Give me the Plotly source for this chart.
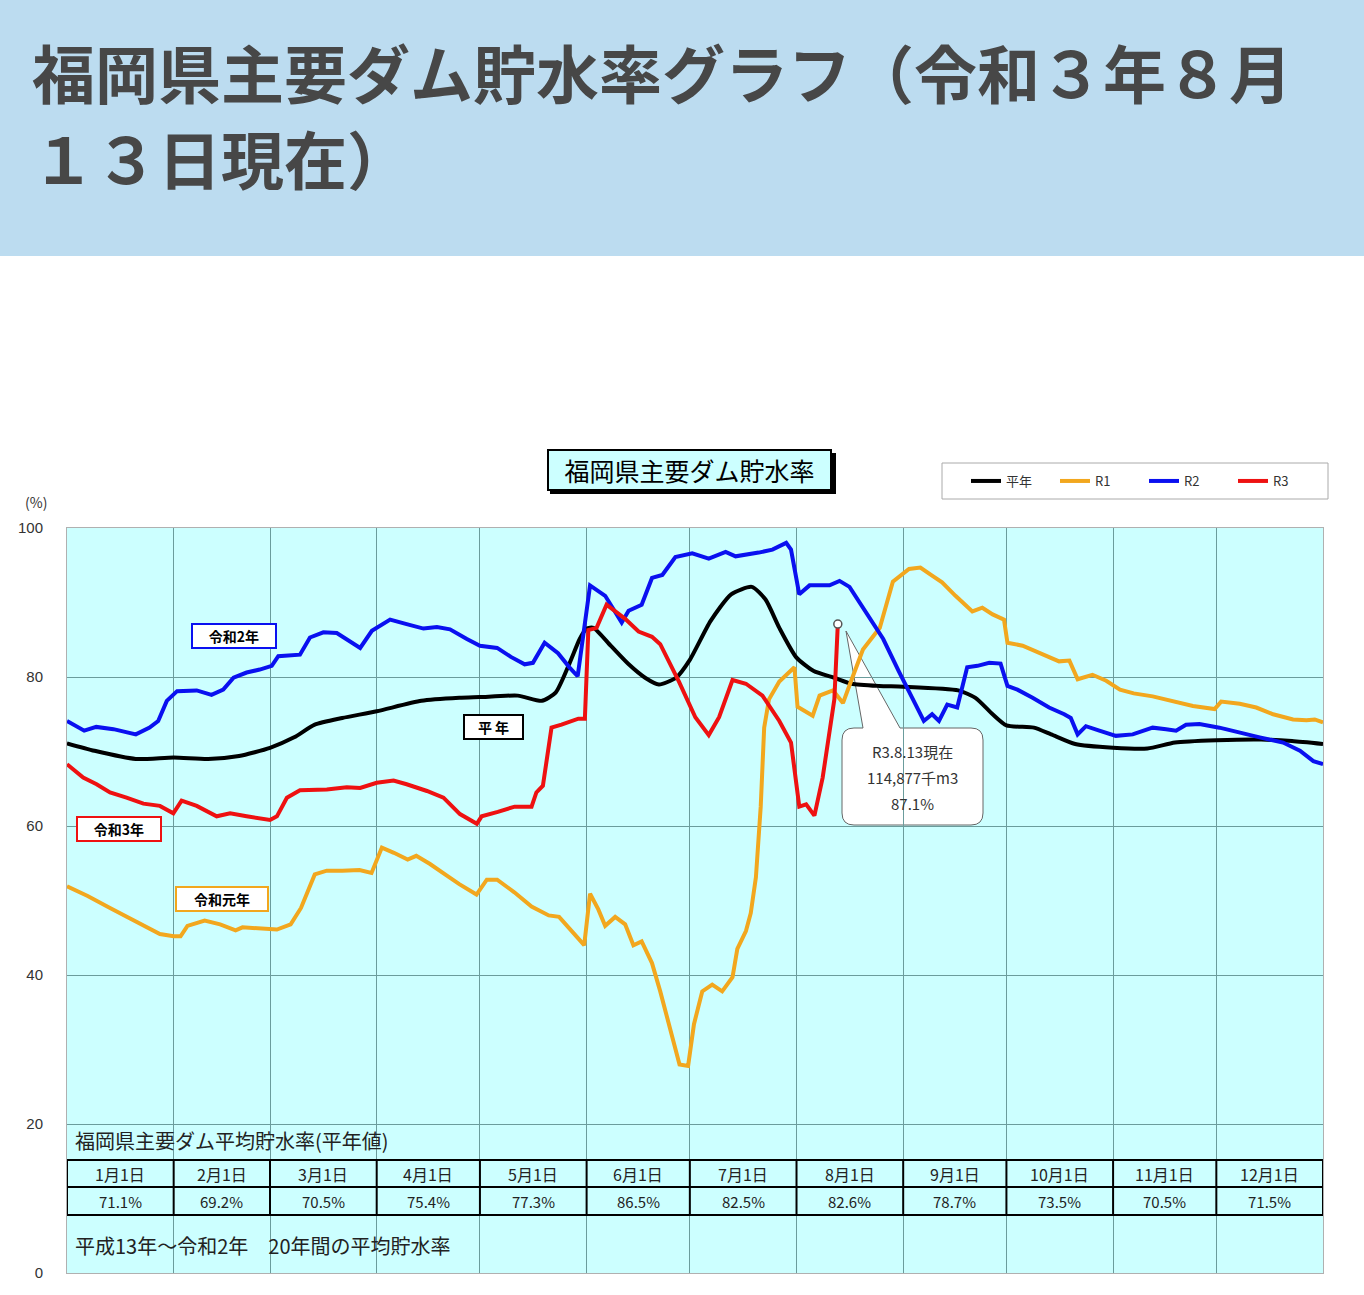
import plotly.graph_objects as go

# ------------------------
# data (day of year, storage %)
# ------------------------
month_start = [0, 31, 59, 90, 120, 151, 181, 212, 243, 273, 304, 334, 365]
table_dates = ["1月1日", "2月1日", "3月1日", "4月1日", "5月1日", "6月1日",
               "7月1日", "8月1日", "9月1日", "10月1日", "11月1日", "12月1日"]
table_values = ["71.1%", "69.2%", "70.5%", "75.4%", "77.3%", "86.5%",
                "82.5%", "82.6%", "78.7%", "73.5%", "70.5%", "71.5%"]

avg_day = [0, 8, 20, 31, 41, 50, 59, 66, 72, 80, 90, 103, 114, 120, 131, 138, 142, 146, 149,
           151, 153, 158, 163, 168, 172, 177, 181, 187, 193, 199, 203, 207, 212, 217, 223, 228,
           236, 243, 259, 264, 269, 273, 281, 286, 293, 304, 314, 322, 334, 347, 356, 365]
avg_pct = [71.1, 70.1, 69.0, 69.2, 69.0, 69.4, 70.5, 71.9, 73.6, 74.5, 75.4, 76.8, 77.2, 77.3,
           77.5, 76.8, 77.9, 81.8, 85.1, 86.5, 86.6, 84.2, 81.8, 79.9, 79.0, 79.9, 82.3, 87.5,
           91.1, 92.1, 90.4, 86.6, 82.6, 80.8, 79.9, 79.1, 78.8, 78.7, 78.2, 77.2, 75.0, 73.5,
           73.2, 72.3, 71.0, 70.5, 70.4, 71.2, 71.5, 71.6, 71.4, 71.0]

r1_day = [0, 6, 12.5, 20, 27, 31, 33, 35, 40, 44.5, 49, 51, 56, 61, 65, 68, 72, 75.5, 80, 85,
          88.5, 91.5, 95, 99, 101.5, 105.5, 110.5, 114, 119, 122, 125, 130, 135, 140, 143,
          146.5, 150.3, 152, 154.4, 156.4, 159.3, 162.2, 164.6, 167, 170, 172.4, 175, 178,
          180.5, 182.2, 184.6, 187.5, 190.4, 193.4, 194.8, 197.3, 198.7, 200.2, 201.6, 202.6,
          204, 207, 211.4, 212.3, 216.7, 218.7, 222.6, 225.5, 227.4, 231.3, 236.2, 240,
          244.7, 248, 251.4, 254.3, 258.2, 263.1, 266, 269, 272.3, 273.3, 277.7, 282.5, 288.3,
          291.3, 293.7, 298, 302, 306, 310, 315.5, 321.3, 327.2, 333.5, 335.4, 340.8, 345.6,
          350.5, 356.3, 360.2, 362.6, 365]
r1_pct = [51.9, 50.6, 49.0, 47.2, 45.5, 45.2, 45.2, 46.6, 47.3, 46.8, 46.0, 46.4, 46.3, 46.1,
          46.8, 49.0, 53.5, 54.0, 54.0, 54.1, 53.7, 57.1, 56.4, 55.5, 56.0, 54.9, 53.3, 52.2,
          50.8, 52.8, 52.8, 51.1, 49.2, 48.0, 47.8, 45.9, 44.0, 50.9, 48.8, 46.6, 47.8, 46.8,
          44.0, 44.5, 41.6, 37.8, 33.0, 28.0, 27.8, 33.4, 37.8, 38.7, 37.8, 39.7, 43.5, 45.9,
          48.3, 53.1, 62.6, 73.2, 77.0, 79.4, 81.3, 76.0, 74.8, 77.5, 78.2, 76.5, 78.9, 83.7,
          86.6, 92.8, 94.5, 94.7, 93.6, 92.7, 90.9, 88.8, 89.3, 88.4, 87.7, 84.6, 84.2, 83.3,
          82.1, 82.2, 79.7, 80.3, 79.5, 78.3, 77.8, 77.4, 76.8, 76.1, 75.7, 76.7, 76.4, 75.9,
          75.0, 74.3, 74.2, 74.3, 73.9]

r2_day = [0, 5, 8.5, 13.5, 20, 24, 26.5, 29, 32, 37.7, 42, 45.4, 48.4, 52.2, 56, 59.5, 61.4,
          67.7, 70.6, 74.5, 78.4, 82.3, 85.2, 88.6, 93.9, 98.7, 103.6, 107.5, 111.3, 116.2,
          120, 125, 129, 133, 135.4, 138.8, 142.7, 146, 148.4, 152, 156.4, 161.2, 163.2, 167,
          170, 173, 176.8, 181.7, 186.5, 191.4, 194.3, 201, 205, 209, 210.4, 212.8, 215.8,
          221.6, 224.5, 227.4, 232.3, 237.2, 241.7, 245.6, 249, 251.4, 253.4, 255.8, 258.7,
          261.6, 264.6, 268, 271.3, 273.3, 276.2, 280.6, 285.4, 289.8, 291.7, 293.7, 296.1,
          300, 304.8, 309.7, 315.5, 319.4, 322.3, 325.2, 329.1, 334.9, 340.8, 346.6, 353.4,
          358.3, 362.2, 365]
r2_pct = [74.1, 72.8, 73.3, 73.0, 72.3, 73.2, 74.1, 76.8, 78.1, 78.2, 77.6, 78.3, 79.9, 80.6,
          81.0, 81.5, 82.8, 83.0, 85.3, 86.0, 85.9, 84.8, 83.9, 86.2, 87.7, 87.1, 86.5, 86.7,
          86.4, 85.1, 84.2, 83.9, 82.7, 81.7, 81.9, 84.6, 83.2, 81.3, 80.1, 92.3, 90.9, 87.3,
          88.9, 89.7, 93.3, 93.7, 96.1, 96.6, 95.9, 96.8, 96.2, 96.7, 97.1, 98.0, 97.1, 91.1,
          92.3, 92.3, 92.9, 92.1, 88.5, 85.1, 80.8, 77.2, 74.1, 75.0, 74.1, 76.3, 75.9, 81.3,
          81.5, 81.9, 81.8, 78.8, 78.3, 77.2, 75.9, 75.0, 74.5, 72.3, 73.4, 72.8, 72.1, 72.3,
          73.2, 73.0, 72.8, 73.6, 73.7, 73.2, 72.5, 71.9, 71.2, 70.1, 68.7, 68.3]

r3_day = [0, 4.7, 8.6, 12.5, 17.3, 22.2, 27, 30.9, 33.3, 37.7, 43.5, 47.4, 52.2, 59, 61, 63.9,
          67.7, 75.5, 81.3, 85.2, 90, 94.9, 98.7, 104.6, 109.4, 114.2, 119.1, 120.5, 125.2,
          130.1, 135, 136.4, 138.3, 139.3, 140.8, 143.7, 148.6, 150.5, 151.5, 153.9, 156.8,
          162.2, 166.1, 170, 172.4, 177.8, 182.6, 186.5, 189.5, 193.4, 197.3, 202.1, 207,
          210.4, 212.8, 214.8, 217.2, 219.6, 221.6, 223, 224]
r3_pct = [68.3, 66.5, 65.6, 64.5, 63.8, 63.0, 62.7, 61.7, 63.4, 62.7, 61.3, 61.7, 61.3, 60.8,
          61.3, 63.8, 64.8, 64.9, 65.2, 65.1, 65.8, 66.1, 65.6, 64.7, 63.8, 61.6, 60.3, 61.3,
          61.9, 62.6, 62.6, 64.5, 65.4, 68.4, 73.2, 73.6, 74.4, 74.4, 86.3, 86.6, 89.7, 87.8,
          86.1, 85.4, 84.4, 79.4, 74.6, 72.2, 74.6, 79.6, 79.1, 77.5, 74.1, 71.2, 62.6, 62.9,
          61.4, 66.5, 72.2, 77.0, 87.1]

callout_lines = ["R3.8.13現在", "114,877千m3", "87.1%"]

# ------------------------
# helpers: page pixels -> paper coords
# ------------------------
W, H = 1364, 1295
L, R, T, B = 67, 1323, 528, 1273


def px(x):
    return (x - L) / (R - L)


def py(y):
    return (B - y) / (B - T)


JP = "Noto Sans CJK JP"

fig = go.Figure()
fig.add_trace(go.Scatter(x=avg_day, y=avg_pct, name="平年", mode="lines",
                         line=dict(color="black", width=4, shape="spline", smoothing=0.6)))
fig.add_trace(go.Scatter(x=r1_day, y=r1_pct, name="R1", mode="lines",
                         line=dict(color="#f2a71e", width=4)))
fig.add_trace(go.Scatter(x=r2_day, y=r2_pct, name="R2", mode="lines",
                         line=dict(color="#0a10f0", width=4)))
fig.add_trace(go.Scatter(x=r3_day, y=r3_pct, name="R3", mode="lines",
                         line=dict(color="#ee1111", width=4)))
fig.add_trace(go.Scatter(x=[r3_day[-1]], y=[r3_pct[-1]], mode="markers", showlegend=False,
                         marker=dict(color="white", size=8, line=dict(color="#555", width=1.5))))

shapes = []
annotations = []


def note(text, x, y, size, color="#222", xanchor="center", **kw):
    annotations.append(dict(xref="paper", yref="paper", x=px(x), y=py(y), xanchor=xanchor,
                            yanchor="middle", text=text, showarrow=False,
                            font=dict(family=JP, size=size, color=color), **kw))


# header band + title
shapes.append(dict(type="rect", xref="paper", yref="paper", x0=px(0), x1=px(W), y0=py(256), y1=py(0),
                   fillcolor="#bcdcf0", line=dict(width=0), layer="below"))
note("<b>福岡県主要ダム貯水率グラフ（令和３年８月</b>", 30, 71, 63, "#474747", xanchor="left")
note("<b>１３日現在）</b>", 30, 156, 63, "#474747", xanchor="left")

# chart title box with shadow
shapes.append(dict(type="rect", xref="paper", yref="paper", x0=px(550), x1=px(836), y0=py(494), y1=py(453),
                   fillcolor="black", line=dict(width=0)))
note("福岡県主要ダム貯水率", 689, 470, 25, "black", width=279, height=36, borderpad=1,
     bgcolor="#ccffff", bordercolor="black", borderwidth=2)

# legend frame
shapes.append(dict(type="rect", xref="paper", yref="paper", x0=px(942), x1=px(1328), y0=py(499), y1=py(463),
                   fillcolor="white", line=dict(color="#aaa", width=1)))

note("(%)", 36, 502, 14, "#333")

# series labels
for text, d, v, col, w in [("令和2年", 48.5, 85.5, "#0a10f0", 80), ("平 年", 123.8, 73.3, "black", 55),
                           ("令和3年", 15.1, 59.6, "#ee1111", 80), ("令和元年", 45.0, 50.2, "#f2a71e", 88)]:
    annotations.append(dict(x=d, y=v, text="<b>" + text + "</b>", showarrow=False, width=w, height=20,
                            bgcolor="white", bordercolor=col, borderwidth=2, borderpad=1,
                            font=dict(family=JP, size=14, color="black")))

# callout
bl, br, bt, bb, rr = 842, 983, 728, 825, 12
pts = [("M", bl + rr, bt), ("L", 863, bt), ("L", 846, 631), ("L", 900, bt), ("L", br - rr, bt),
       ("Q", br, bt, br, bt + rr), ("L", br, bb - rr), ("Q", br, bb, br - rr, bb), ("L", bl + rr, bb),
       ("Q", bl, bb, bl, bb - rr), ("L", bl, bt + rr), ("Q", bl, bt, bl + rr, bt)]
path = ""
for p in pts:
    coords = p[1:]
    path += p[0] + " " + " ".join(f"{px(coords[i]):.5f},{py(coords[i + 1]):.5f}"
                                  for i in range(0, len(coords), 2)) + " "
path += "Z"
shapes.append(dict(type="path", xref="paper", yref="paper", path=path, fillcolor="white",
                   line=dict(color="#666", width=1), layer="between"))
for text, y in zip(callout_lines, [751, 777, 803]):
    note(text, 912, y, 15, "#333")

# average table inside the plot
note("福岡県主要ダム平均貯水率(平年値)", 73, 1140, 20, xanchor="left")
note("平成13年～令和2年　20年間の平均貯水率", 73, 1245, 20, xanchor="left")
t_top, t_mid, t_bot = py(1160), py(1187), py(1215)
shapes.append(dict(type="rect", xref="x", yref="paper", x0=month_start[0], x1=month_start[-1],
                   y0=t_bot, y1=t_top, line=dict(color="black", width=2), layer="above"))
shapes.append(dict(type="line", xref="x", yref="paper", x0=month_start[0], x1=month_start[-1],
                   y0=t_mid, y1=t_mid, line=dict(color="black", width=2), layer="above"))
for d in month_start[1:-1]:
    shapes.append(dict(type="line", xref="x", yref="paper", x0=d, x1=d, y0=t_bot, y1=t_top,
                       line=dict(color="black", width=2), layer="above"))
for i in range(12):
    c = (month_start[i] + month_start[i + 1]) / 2
    annotations.append(dict(x=c, xref="x", yref="paper", y=(t_top + t_mid) / 2, yanchor="middle",
                            text=table_dates[i], showarrow=False,
                            font=dict(family=JP, size=16, color="#222")))
    annotations.append(dict(x=c, xref="x", yref="paper", y=(t_mid + t_bot) / 2, yanchor="middle",
                            text=table_values[i], showarrow=False,
                            font=dict(family=JP, size=15, color="#222")))

fig.update_layout(
    width=W, height=H,
    margin=dict(l=L, r=W - R, t=T, b=H - B, pad=0),
    paper_bgcolor="white",
    plot_bgcolor="#ccffff",
    font=dict(family=JP, color="#333"),
    shapes=shapes,
    annotations=annotations,
    legend=dict(orientation="h", x=px(966), y=py(481), xanchor="left", yanchor="middle",
                bgcolor="rgba(0,0,0,0)", borderwidth=0, itemwidth=30,
                entrywidth=44, font=dict(family=JP, size=13, color="#333")),
    xaxis=dict(range=[month_start[0], month_start[-1]], tickvals=month_start[1:-1], showticklabels=False,
               showgrid=True, gridcolor="#6b9c9c", gridwidth=1, zeroline=False,
               showline=True, mirror=True, linecolor="#b0b0b0", linewidth=1, ticks=""),
    yaxis=dict(range=[0, 100], dtick=20, showgrid=True, gridcolor="#6b9c9c", gridwidth=1, zeroline=False,
               showline=True, mirror=True, linecolor="#b0b0b0", linewidth=1, ticks="",
               ticklabelstandoff=20, tickfont=dict(family="Liberation Sans", size=15, color="#333")),
    showlegend=True,
)

fig.write_html("out.html", config={"displayModeBar": False},
               post_script="document.body.style.margin='0';"
                           "document.documentElement.style.overflow='hidden';")
